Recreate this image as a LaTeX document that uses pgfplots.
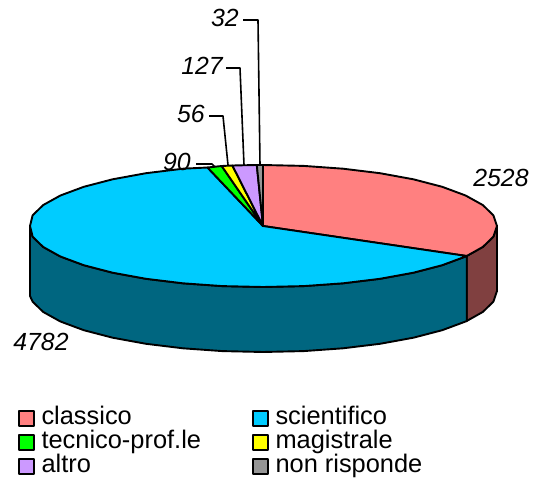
\documentclass[border=0pt]{standalone}
\usepackage{pgfplots}
\pgfplotsset{compat=1.18}
\usepackage{fontspec}
\setmainfont{Liberation Sans}
\definecolor{cla}{HTML}{FF8080}
\definecolor{clad}{HTML}{804040}
\definecolor{sci}{HTML}{00CCFF}
\definecolor{scid}{HTML}{006680}
\definecolor{tec}{HTML}{00FF00}
\definecolor{mag}{HTML}{FFFF00}
\definecolor{alt}{HTML}{CC99FF}
\definecolor{nonr}{HTML}{969696}
\begin{document}
\begin{tikzpicture}
\begin{axis}[
  scale only axis, width=539pt, height=482pt,
  xmin=0, xmax=539, ymin=0, ymax=482, y dir=reverse,
  axis lines=none, clip=false,
  legend columns=2,
  legend cell align=left,
  legend style={draw=none, fill=none, at={(axis description cs:0.0334,0.1576)}, anchor=north west,
    font=\fontsize{25.4}{25.4}\selectfont, inner sep=0pt, row sep=0pt,
    nodes={inner sep=0pt, text height=18pt, text depth=6pt},
    /tikz/every odd column/.append style={column sep=6.4pt},
    /tikz/every even column/.append style={column sep=51.2pt}},
  legend image code/.code={\draw[#1] (0pt,-7.5pt) rectangle (15pt,7.5pt);},
  every axis plot/.append style={line width=1.9pt, line join=round, draw=black},
]
\path (axis cs:0,0) (axis cs:539,482);
% walls
\addplot[fill=clad, forget plot] coordinates {(497,226)(493.4,236.6)(482.9,246.9)(466.7,256)(466.7,321)(482.9,311.9)(493.4,301.6)(497,291)} -- cycle;
\addplot[fill=scid, forget plot] coordinates {(466.7,256)(465.6,256.5)(442.2,265.2)(413.4,272.7)(380,278.8)(343,283.3)(303.6,286.1)(263,287)(222.4,286.1)(183,283.3)(146,278.8)(112.6,272.7)(83.8,265.2)(60.4,256.5)(43.1,246.9)(32.6,236.6)(30,226)(30,296)(32.6,301.6)(43.1,311.9)(60.4,321.5)(83.8,330.2)(112.6,337.7)(146,343.8)(183,348.3)(222.4,351.1)(263,352)(303.6,351.1)(343,348.3)(380,343.8)(413.4,337.7)(442.2,330.2)(465.6,321.5)(466.7,321)} -- cycle;
% top slices
\addplot[fill=cla] coordinates {(263,226)(263,165)(303.6,165.9)(343,168.7)(380,173.2)(413.4,179.3)(442.2,186.8)(465.6,195.5)(482.9,205.1)(493.4,215.4)(497,226)(493.4,236.6)(482.9,246.9)(466.7,256)} -- cycle;
\addlegendentry{classico}
\addplot[fill=sci] coordinates {(263,226)(466.7,256)(465.6,256.5)(442.2,265.2)(413.4,272.7)(380,278.8)(343,283.3)(303.6,286.1)(263,287)(222.4,286.1)(183,283.3)(146,278.8)(112.6,272.7)(83.8,265.2)(60.4,256.5)(43.1,246.9)(32.6,236.6)(30,226)(32.6,215.4)(43.1,205.1)(60.4,195.5)(83.8,186.8)(112.6,179.3)(146,173.2)(183,168.7)(207.5,167.5)} -- cycle;
\addlegendentry{scientifico}
\addplot[fill=tec] coordinates {(263,226)(207.5,167.5)(221.7,166)} -- cycle;
\addlegendentry{tecnico-prof.le}
\addplot[fill=mag] coordinates {(263,226)(221.7,166)(232.4,165.5)} -- cycle;
\addlegendentry{magistrale}
\addplot[fill=alt] coordinates {(263,226)(232.4,165.5)(256.8,165)} -- cycle;
\addlegendentry{altro}
\addplot[fill=nonr] coordinates {(263,226)(256.8,165)(263,165)} -- cycle;
\addlegendentry{non risponde}
% leaders
\addplot[forget plot, line width=1.6pt] coordinates {(243,20)(258,20)(260,165)};
\addplot[forget plot, line width=1.6pt] coordinates {(226,68)(240,68)(244,165)};
\addplot[forget plot, line width=1.6pt] coordinates {(209,116)(223,116)(228,165)};
\addplot[forget plot, line width=1.6pt] coordinates {(196,164)(212,164)(215,167)};
% value labels
\node[font=\fontsize{24.8}{24.8}\selectfont\itshape] at (axis cs:225,18) {32};
\node[font=\fontsize{24.8}{24.8}\selectfont\itshape] at (axis cs:202,66) {127};
\node[font=\fontsize{24.8}{24.8}\selectfont\itshape] at (axis cs:191,114) {56};
\node[font=\fontsize{24.8}{24.8}\selectfont\itshape] at (axis cs:177,162) {90};
\node[font=\fontsize{24.8}{24.8}\selectfont\itshape] at (axis cs:501,178) {2528};
\node[font=\fontsize{24.8}{24.8}\selectfont\itshape] at (axis cs:41,342) {4782};
\end{axis}
\end{tikzpicture}
\end{document}
